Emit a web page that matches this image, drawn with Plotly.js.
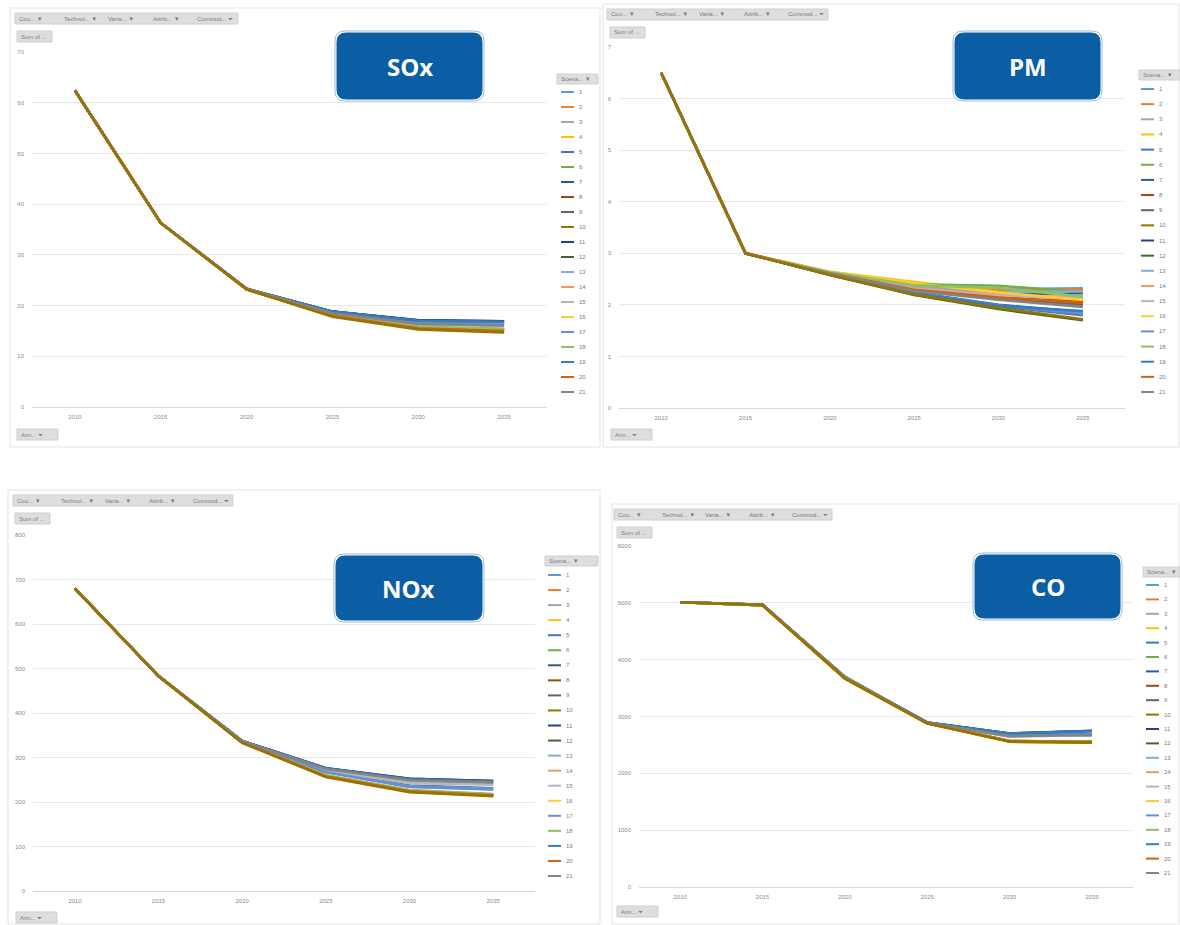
<!DOCTYPE html>
<html>
<head>
<meta charset="utf-8">
<script src="https://cdn.plot.ly/plotly-3.0.1.min.js"></script>
<style>html,body{margin:0;padding:0;background:#fff;}#chart{width:1180px;height:925px;}</style>
</head>
<body>
<div id="chart"></div>
<script>
// ---------- DATA ----------
const years = ['2010','2015','2020','2025','2030','2035'];
const scenarios = ['1','2','3','4','5','6','7','8','9','10','11','12','13','14','15','16','17','18','19','20','21'];
const seriesColors = ['#5B9BD5','#ED7D31','#A5A5A5','#FFC000','#4472C4','#70AD47','#255E91','#9E480E','#636363','#997300','#264478','#43682B','#7CAFDD','#F1975A','#B7B7B7','#FFCD33','#698ED0','#8CC168','#327DC2','#D26012','#848484'];
const panelTitles = ['SOx','PM','NOx','CO'];

const soxTicks = [0,10,20,30,40,50,60,70];
const pmTicks  = [0,1,2,3,4,5,6,7];
const noxTicks = [0,100,200,300,400,500,600,700,800];
const coTicks  = [0,1000,2000,3000,4000,5000,6000];

const soxValues = [
 [62.4,36.3,23.3,18.7,16.9,16.7],
 [62.4,36.3,23.2,18.0,15.6,15.1],
 [62.4,36.3,23.3,18.5,16.4,16.1],
 [62.4,36.3,23.2,17.9,15.4,14.8],
 [62.4,36.3,23.3,18.8,17.0,16.8],
 [62.4,36.3,23.2,18.1,15.7,15.3],
 [62.4,36.3,23.3,18.8,17.1,16.9],
 [62.4,36.3,23.2,18.0,15.6,15.2],
 [62.4,36.3,23.3,18.5,16.5,16.2],
 [62.4,36.3,23.2,17.8,15.3,14.7],
 [62.4,36.3,23.3,18.8,17.1,16.9],
 [62.4,36.3,23.2,18.1,15.7,15.3],
 [62.4,36.3,23.3,18.6,16.8,16.6],
 [62.4,36.3,23.2,18.0,15.5,15.0],
 [62.4,36.3,23.3,18.4,16.3,16.0],
 [62.4,36.3,23.2,17.9,15.4,14.8],
 [62.4,36.3,23.3,18.7,16.9,16.7],
 [62.4,36.3,23.2,18.1,15.8,15.4],
 [62.4,36.3,23.3,18.8,17.0,16.8],
 [62.4,36.3,23.2,18.0,15.5,15.0],
 [62.4,36.3,23.3,18.5,16.4,16.1]
];
const pmValues = [
 [6.5,3.0,2.63,2.36,2.30,2.32],
 [6.5,3.0,2.62,2.34,2.28,2.30],
 [6.5,3.0,2.62,2.33,2.22,2.20],
 [6.5,3.0,2.64,2.44,2.25,2.06],
 [6.5,3.0,2.59,2.22,1.97,1.80],
 [6.5,3.0,2.63,2.40,2.37,2.25],
 [6.5,3.0,2.59,2.24,2.00,1.86],
 [6.5,3.0,2.61,2.30,2.15,2.05],
 [6.5,3.0,2.61,2.28,2.12,2.00],
 [6.5,3.0,2.58,2.20,1.94,1.72],
 [6.5,3.0,2.60,2.30,2.20,2.24],
 [6.5,3.0,2.58,2.19,1.92,1.70],
 [6.5,3.0,2.62,2.33,2.24,2.26],
 [6.5,3.0,2.62,2.32,2.20,2.14],
 [6.5,3.0,2.62,2.31,2.18,2.12],
 [6.5,3.0,2.64,2.42,2.24,2.10],
 [6.5,3.0,2.59,2.23,1.99,1.83],
 [6.5,3.0,2.63,2.38,2.33,2.16],
 [6.5,3.0,2.59,2.22,1.98,1.88],
 [6.5,3.0,2.61,2.29,2.14,2.04],
 [6.5,3.0,2.61,2.27,2.10,1.96]
];
const noxValues = [
 [680,483,336,268,236,230],
 [680,483,334,258,224,215],
 [680,483,336,272,244,240],
 [680,483,334,257,223,214],
 [680,483,336,269,237,231],
 [680,483,334,259,225,216],
 [680,483,337,276,252,247],
 [680,483,334,258,224,215],
 [680,483,337,275,250,245],
 [680,483,333,256,222,213],
 [680,483,337,276,252,247],
 [680,483,334,259,226,217],
 [680,483,336,268,235,229],
 [680,483,334,258,224,215],
 [680,483,336,271,243,239],
 [680,483,334,257,223,214],
 [680,483,336,267,234,228],
 [680,483,334,260,227,218],
 [680,483,337,276,251,246],
 [680,483,334,258,224,215],
 [680,483,337,274,249,244]
];
const coValues = [
 [5010,4965,3690,2890,2660,2680],
 [5010,4960,3670,2880,2565,2550],
 [5010,4965,3690,2890,2650,2670],
 [5010,4960,3670,2880,2560,2545],
 [5010,4965,3690,2890,2665,2690],
 [5010,4960,3700,2885,2570,2555],
 [5010,4965,3690,2895,2700,2750],
 [5010,4960,3670,2880,2565,2550],
 [5010,4965,3690,2890,2655,2675],
 [5010,4960,3670,2880,2555,2540],
 [5010,4965,3690,2895,2700,2745],
 [5010,4960,3700,2885,2570,2555],
 [5010,4965,3690,2890,2660,2680],
 [5010,4960,3670,2880,2565,2550],
 [5010,4965,3690,2890,2650,2670],
 [5010,4960,3670,2880,2560,2545],
 [5010,4965,3690,2890,2665,2690],
 [5010,4960,3700,2885,2570,2555],
 [5010,4965,3690,2895,2700,2745],
 [5010,4960,3670,2880,2565,2550],
 [5010,4965,3690,2890,2655,2675]
];

// ---------- LAYOUT HELPERS ----------
const W = 1180, H = 925;
const px = x => x / W;
const py = y => 1 - y / H;

const panels = [
 {values: soxValues, ticks: soxTicks, plot:[32,52,547,407], frame:[10,8,600,447],
  filterBar:[15,13,238], sumBox:[17,31], annBox:[17,429], legend:{box:[557,74,598], x0:561, y0:92, step:15.0},
  badge:[337,33,482,99]},
 {values: pmValues, ticks: pmTicks, plot:[619,47,1125,408], frame:[603,4,1179,447],
  filterBar:[607,9,828], sumBox:[610,27], annBox:[611,429], legend:{box:[1139,70,1180], x0:1141, y0:89, step:15.15},
  badge:[955,33,1100,99]},
 {values: noxValues, ticks: noxTicks, plot:[33,535,535,891], frame:[8,490,600,924],
  filterBar:[13,495,233], sumBox:[15,513], annBox:[16,912], legend:{box:[545,556,598], x0:548, y0:575, step:15.05},
  badge:[336,556,482,620]},
 {values: coValues, ticks: coTicks, plot:[639,546,1133,887], frame:[612,504,1179,924],
  filterBar:[614,509,832], sumBox:[617,527], annBox:[617,906], legend:{box:[1143,567,1180], x0:1146, y0:585, step:14.4},
  badge:[975,555,1120,618]}
];

// draw order: series 10 last so the shared trunk looks olive like the reference
const drawOrder = [0,1,2,3,4,5,6,7,8,10,11,12,13,14,15,16,17,18,19,20,9];

const traces = [];
const shapes = [];
const annotations = [];
const layout = {
  width: W, height: H,
  margin: {l:0, r:0, t:0, b:0},
  paper_bgcolor: '#ffffff',
  plot_bgcolor: 'rgba(0,0,0,0)',
  showlegend: false,
  font: {family: 'Liberation Sans, Arial, sans-serif', color: '#8c8c8c', size: 6}
};

function roundRectPath(x0, y0, x1, y1, r) {
  const P = (x, y) => px(x) + ',' + py(y);
  return 'M ' + P(x0 + r, y0) + ' L ' + P(x1 - r, y0) + ' Q ' + P(x1, y0) + ' ' + P(x1, y0 + r) +
    ' L ' + P(x1, y1 - r) + ' Q ' + P(x1, y1) + ' ' + P(x1 - r, y1) +
    ' L ' + P(x0 + r, y1) + ' Q ' + P(x0, y1) + ' ' + P(x0, y1 - r) +
    ' L ' + P(x0, y0 + r) + ' Q ' + P(x0, y0) + ' ' + P(x0 + r, y0) + ' Z';
}
function grayBox(x0, y0, x1, y1) {
  shapes.push({type:'rect', xref:'paper', yref:'paper', x0:px(x0), x1:px(x1), y0:py(y1), y1:py(y0),
    fillcolor:'#dedede', line:{color:'#cfcfcf', width:1}, layer:'below'});
}
function smallText(text, x, y, anchor) {
  annotations.push({xref:'paper', yref:'paper', x:px(x), y:py(y), text:text, showarrow:false,
    xanchor: anchor || 'left', yanchor:'middle', font:{size:6, color:'#7a7a7a'}});
}

panels.forEach((p, k) => {
  const sfx = k === 0 ? '' : String(k + 1);
  const xa = 'xaxis' + sfx, ya = 'yaxis' + sfx;
  const [x0, y0, x1, y1] = p.plot;
  const maxT = p.ticks[p.ticks.length - 1];
  layout[xa] = {
    domain:[px(x0), px(x1)], anchor:'y' + sfx, type:'category', categoryorder:'array', categoryarray: years,
    range:[-0.5, years.length - 0.5],
    showgrid:false, showline:true, linecolor:'#d9d9d9', linewidth:1, ticks:'', zeroline:false,
    tickfont:{size:6, color:'#8c8c8c'}, ticklabelstandoff:4, fixedrange:true
  };
  layout[ya] = {
    domain:[py(y1), py(y0)], anchor:'x' + sfx, range:[0, maxT], tickvals:p.ticks,
    showgrid:true, gridcolor:'#e8e8e8', gridwidth:1, zeroline:false, showline:false, ticks:'',
    tickfont:{size:6, color:'#8c8c8c'}, ticklabelstandoff:7, fixedrange:true
  };
  drawOrder.forEach(i => {
    traces.push({type:'scatter', mode:'lines', x:years, y:p.values[i], name:scenarios[i],
      xaxis:'x' + sfx, yaxis:'y' + sfx, line:{color:seriesColors[i], width:2.6}, showlegend:false,
      hoverinfo:'skip'});
  });

  // panel frame
  const f = p.frame;
  shapes.push({type:'rect', xref:'paper', yref:'paper', x0:px(f[0]), x1:px(f[2]), y0:py(f[3]), y1:py(f[1]),
    line:{color:'#e4e4e4', width:1}, fillcolor:'rgba(0,0,0,0)', layer:'below'});

  // filter bar
  const fb = p.filterBar;
  grayBox(fb[0], fb[1], fb[2], fb[1] + 11);
  const segW = (fb[2] - fb[0]) / 5;
  const labels = ['Cou... ▼', 'Technol... ▼', 'Varia... ▼', 'Attrib... ▼', 'Commod... ⏷'];
  labels.forEach((t, j) => smallText(t, fb[0] + 2 + j * segW, fb[1] + 5.5));
  // sum of box
  grayBox(p.sumBox[0], p.sumBox[1], p.sumBox[0] + 35, p.sumBox[1] + 11);
  smallText('Sum of ...', p.sumBox[0] + 2, p.sumBox[1] + 5.5);
  // bottom filter box
  grayBox(p.annBox[0], p.annBox[1], p.annBox[0] + 41, p.annBox[1] + 11);
  smallText('Ann... ⏷', p.annBox[0] + 2, p.annBox[1] + 5.5);

  // legend
  const L = p.legend;
  grayBox(L.box[0], L.box[1], L.box[2], L.box[1] + 10);
  smallText('Scena... ▼', L.box[0] + 2, L.box[1] + 5);
  scenarios.forEach((s, i) => {
    const yy = L.y0 + i * L.step;
    shapes.push({type:'line', xref:'paper', yref:'paper', x0:px(L.x0), x1:px(L.x0 + 13), y0:py(yy), y1:py(yy),
      line:{color:seriesColors[i], width:2}});
    smallText(s, L.x0 + 16, yy);
  });

  // badge
  const b = p.badge;
  shapes.push({type:'path', xref:'paper', yref:'paper', path: roundRectPath(b[0] - 2, b[1] - 2, b[2] + 2, b[3] + 2, 10),
    fillcolor:'#ffffff', line:{color:'#9dbbd8', width:1}});
  shapes.push({type:'path', xref:'paper', yref:'paper', path: roundRectPath(b[0], b[1], b[2], b[3], 9),
    fillcolor:'#0C5EA4', line:{color:'#0C5EA4', width:1}});
  annotations.push({xref:'paper', yref:'paper', x:px((b[0] + b[2]) / 2), y:py((b[1] + b[3]) / 2), text:'<b>' + panelTitles[k] + '</b>',
    showarrow:false, xanchor:'center', yanchor:'middle', font:{family:'Open Sans, Liberation Sans, sans-serif', size:24, color:'#ffffff'}});
});

layout.shapes = shapes;
layout.annotations = annotations;

Plotly.newPlot('chart', traces, layout, {displayModeBar:false, staticPlot:true});
</script>
</body>
</html>
